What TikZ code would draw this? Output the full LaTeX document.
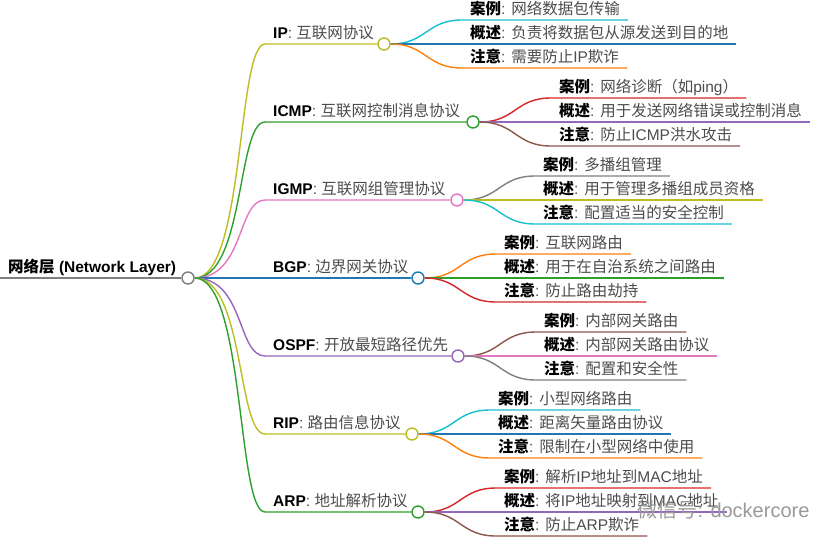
\documentclass[tikz,border=0pt]{standalone}
\usepackage{fontspec}
\setmainfont{Liberation Sans}
\newfontfamily\cjkfont{Noto Sans CJK SC}
\usepackage{tikz}
\usetikzlibrary{positioning}
\usepackage{xcolor}

\definecolor{mmblue}{HTML}{1F77B4}
\definecolor{mmorange}{HTML}{FF7F0E}
\definecolor{mmgreen}{HTML}{2CA02C}
\definecolor{mmred}{HTML}{D62728}
\definecolor{mmpurple}{HTML}{9467BD}
\definecolor{mmbrown}{HTML}{8C564B}
\definecolor{mmpink}{HTML}{E377C2}
\definecolor{mmgray}{HTML}{7F7F7F}
\definecolor{mmolive}{HTML}{BCBD22}
\definecolor{mmcyan}{HTML}{17BECF}

% CJK characters switch to \cjkfont by themselves
\XeTeXinterchartokenstate=1
\count255="3000
\loop \XeTeXcharclass\count255=7 \advance\count255 by 1 \ifnum\count255<"A000 \repeat
\count255="FF00
\loop \XeTeXcharclass\count255=7 \advance\count255 by 1 \ifnum\count255<"FFF0 \repeat
\XeTeXinterchartoks 0 7 = {\begingroup\cjkfont}
\XeTeXinterchartoks 4095 7 = {\begingroup\cjkfont}
\XeTeXinterchartoks 7 0 = {\endgroup}
\XeTeXinterchartoks 7 4095 = {\endgroup}

\newcommand\kw[1]{\textbf{\textcolor{black}{#1}}}

\begin{document}
\begin{tikzpicture}[x=1pt, y=-1pt,
    every node/.style={font=\fontsize{15.5}{18}\selectfont},
    topic/.style={anchor=south west, inner xsep=8pt, inner ysep=0pt, text depth=5pt, text=black!70},
    dot/.style={circle, draw, fill=white, line width=1.4pt, minimum size=12pt, inner sep=0pt},
    link/.style={line width=1.4pt}]
    \useasboundingbox (0,0) rectangle (830,543);

    % Root
    \node[dot, draw=mmgray] (root-dot) at (188,278) {};
    \node[topic, text=black] (root) at (0,278) {\textbf{网络层 (Network Layer)}};
    \draw[link, mmgray] (root.south west) -- (root-dot.west);

    % IP
    \node[dot, draw=mmolive] (ip-dot) at (384,44) {};
    \node[topic] (ip) at (265,44) {\kw{IP}: 互联网协议};
    \draw[link, mmolive] (root-dot.east) .. controls +(50,0) and +(-28,0) .. (ip.south west) -- (ip-dot.west);
    \node[topic] (ip-case) at ([shift={(78,-24)}]ip-dot.center) {\kw{案例}: 网络数据包传输};
    \node[topic] (ip-desc) at ([shift={(78,0)}]ip-dot.center) {\kw{概述}: 负责将数据包从源发送到目的地};
    \node[topic] (ip-note) at ([shift={(78,24)}]ip-dot.center) {\kw{注意}: 需要防止IP欺诈};
    \draw[link, mmcyan] (ip-dot.east) .. controls +(36,0) and +(-36,0) .. (ip-case.south west) -- (ip-case.south east);
    \draw[link, mmblue] (ip-dot.east) -- (ip-desc.south west) -- (ip-desc.south east);
    \draw[link, mmorange] (ip-dot.east) .. controls +(36,0) and +(-36,0) .. (ip-note.south west) -- (ip-note.south east);

    % ICMP
    \node[dot, draw=mmgreen] (icmp-dot) at (473,122) {};
    \node[topic] (icmp) at (265,122) {\kw{ICMP}: 互联网控制消息协议};
    \draw[link, mmgreen] (root-dot.east) .. controls +(50,0) and +(-28,0) .. (icmp.south west) -- (icmp-dot.west);
    \node[topic] (icmp-case) at ([shift={(78,-24)}]icmp-dot.center) {\kw{案例}: 网络诊断（如ping）};
    \node[topic] (icmp-desc) at ([shift={(78,0)}]icmp-dot.center) {\kw{概述}: 用于发送网络错误或控制消息};
    \node[topic] (icmp-note) at ([shift={(78,24)}]icmp-dot.center) {\kw{注意}: 防止ICMP洪水攻击};
    \draw[link, mmred] (icmp-dot.east) .. controls +(36,0) and +(-36,0) .. (icmp-case.south west) -- (icmp-case.south east);
    \draw[link, mmpurple] (icmp-dot.east) -- (icmp-desc.south west) -- (icmp-desc.south east);
    \draw[link, mmbrown] (icmp-dot.east) .. controls +(36,0) and +(-36,0) .. (icmp-note.south west) -- (icmp-note.south east);

    % IGMP
    \node[dot, draw=mmpink] (igmp-dot) at (457,200) {};
    \node[topic] (igmp) at (265,200) {\kw{IGMP}: 互联网组管理协议};
    \draw[link, mmpink] (root-dot.east) .. controls +(50,0) and +(-28,0) .. (igmp.south west) -- (igmp-dot.west);
    \node[topic] (igmp-case) at ([shift={(78,-24)}]igmp-dot.center) {\kw{案例}: 多播组管理};
    \node[topic] (igmp-desc) at ([shift={(78,0)}]igmp-dot.center) {\kw{概述}: 用于管理多播组成员资格};
    \node[topic] (igmp-note) at ([shift={(78,24)}]igmp-dot.center) {\kw{注意}: 配置适当的安全控制};
    \draw[link, mmgray] (igmp-dot.east) .. controls +(36,0) and +(-36,0) .. (igmp-case.south west) -- (igmp-case.south east);
    \draw[link, mmolive] (igmp-dot.east) -- (igmp-desc.south west) -- (igmp-desc.south east);
    \draw[link, mmcyan] (igmp-dot.east) .. controls +(36,0) and +(-36,0) .. (igmp-note.south west) -- (igmp-note.south east);

    % BGP
    \node[dot, draw=mmblue] (bgp-dot) at (418,278) {};
    \node[topic] (bgp) at (265,278) {\kw{BGP}: 边界网关协议};
    \draw[link, mmblue] (root-dot.east) -- (bgp.south west) -- (bgp-dot.west);
    \node[topic] (bgp-case) at ([shift={(78,-24)}]bgp-dot.center) {\kw{案例}: 互联网路由};
    \node[topic] (bgp-desc) at ([shift={(78,0)}]bgp-dot.center) {\kw{概述}: 用于在自治系统之间路由};
    \node[topic] (bgp-note) at ([shift={(78,24)}]bgp-dot.center) {\kw{注意}: 防止路由劫持};
    \draw[link, mmorange] (bgp-dot.east) .. controls +(36,0) and +(-36,0) .. (bgp-case.south west) -- (bgp-case.south east);
    \draw[link, mmgreen] (bgp-dot.east) -- (bgp-desc.south west) -- (bgp-desc.south east);
    \draw[link, mmred] (bgp-dot.east) .. controls +(36,0) and +(-36,0) .. (bgp-note.south west) -- (bgp-note.south east);

    % OSPF
    \node[dot, draw=mmpurple] (ospf-dot) at (458,356) {};
    \node[topic] (ospf) at (265,356) {\kw{OSPF}: 开放最短路径优先};
    \draw[link, mmpurple] (root-dot.east) .. controls +(50,0) and +(-28,0) .. (ospf.south west) -- (ospf-dot.west);
    \node[topic] (ospf-case) at ([shift={(78,-24)}]ospf-dot.center) {\kw{案例}: 内部网关路由};
    \node[topic] (ospf-desc) at ([shift={(78,0)}]ospf-dot.center) {\kw{概述}: 内部网关路由协议};
    \node[topic] (ospf-note) at ([shift={(78,24)}]ospf-dot.center) {\kw{注意}: 配置和安全性};
    \draw[link, mmbrown] (ospf-dot.east) .. controls +(36,0) and +(-36,0) .. (ospf-case.south west) -- (ospf-case.south east);
    \draw[link, mmpink] (ospf-dot.east) -- (ospf-desc.south west) -- (ospf-desc.south east);
    \draw[link, mmgray] (ospf-dot.east) .. controls +(36,0) and +(-36,0) .. (ospf-note.south west) -- (ospf-note.south east);

    % RIP
    \node[dot, draw=mmolive] (rip-dot) at (412,434) {};
    \node[topic] (rip) at (265,434) {\kw{RIP}: 路由信息协议};
    \draw[link, mmolive] (root-dot.east) .. controls +(50,0) and +(-28,0) .. (rip.south west) -- (rip-dot.west);
    \node[topic] (rip-case) at ([shift={(78,-24)}]rip-dot.center) {\kw{案例}: 小型网络路由};
    \node[topic] (rip-desc) at ([shift={(78,0)}]rip-dot.center) {\kw{概述}: 距离矢量路由协议};
    \node[topic] (rip-note) at ([shift={(78,24)}]rip-dot.center) {\kw{注意}: 限制在小型网络中使用};
    \draw[link, mmcyan] (rip-dot.east) .. controls +(36,0) and +(-36,0) .. (rip-case.south west) -- (rip-case.south east);
    \draw[link, mmblue] (rip-dot.east) -- (rip-desc.south west) -- (rip-desc.south east);
    \draw[link, mmorange] (rip-dot.east) .. controls +(36,0) and +(-36,0) .. (rip-note.south west) -- (rip-note.south east);

    % ARP
    \node[dot, draw=mmgreen] (arp-dot) at (418,512) {};
    \node[topic] (arp) at (265,512) {\kw{ARP}: 地址解析协议};
    \draw[link, mmgreen] (root-dot.east) .. controls +(50,0) and +(-28,0) .. (arp.south west) -- (arp-dot.west);
    \node[topic] (arp-case) at ([shift={(78,-24)}]arp-dot.center) {\kw{案例}: 解析IP地址到MAC地址};
    \node[topic] (arp-desc) at ([shift={(78,0)}]arp-dot.center) {\kw{概述}: 将IP地址映射到MAC地址};
    \node[topic] (arp-note) at ([shift={(78,24)}]arp-dot.center) {\kw{注意}: 防止ARP欺诈};
    \draw[link, mmred] (arp-dot.east) .. controls +(36,0) and +(-36,0) .. (arp-case.south west) -- (arp-case.south east);
    \draw[link, mmpurple] (arp-dot.east) -- (arp-desc.south west) -- (arp-desc.south east);
    \draw[link, mmbrown] (arp-dot.east) .. controls +(36,0) and +(-36,0) .. (arp-note.south west) -- (arp-note.south east);

    % watermark
    \node[anchor=west, text=gray!80, font=\fontsize{20}{24}\selectfont] (mark) at (634,510) {微信号: dockercore};
\end{tikzpicture}
\end{document}
